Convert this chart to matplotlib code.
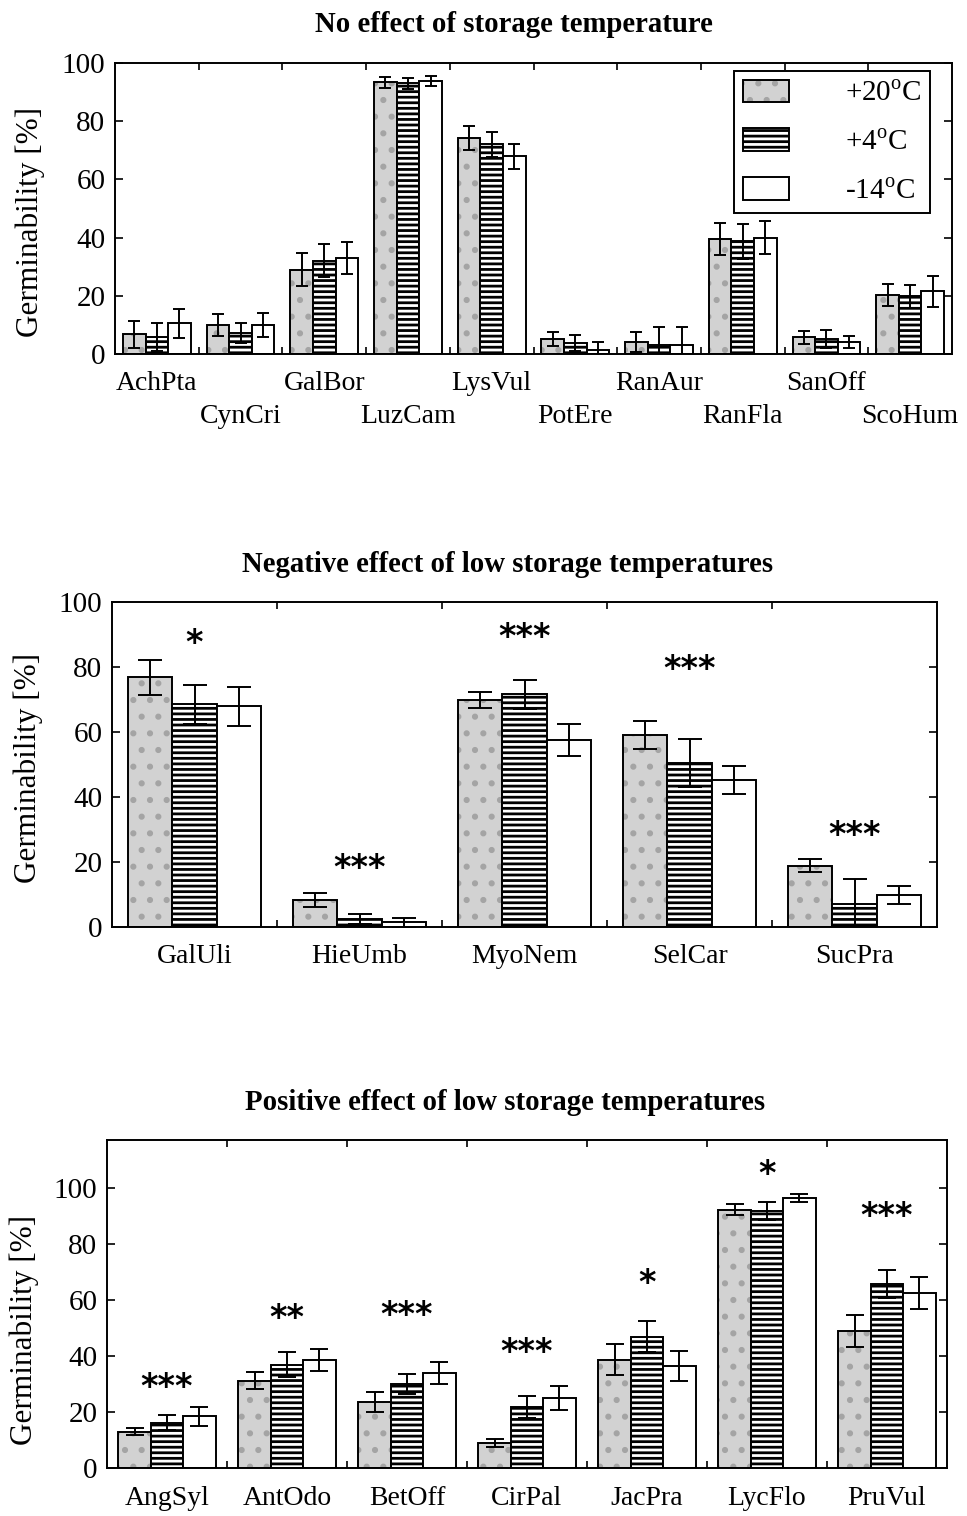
#!/usr/bin/env python3
"""Germinability of seeds after storage at three temperatures (three panels)."""
from __future__ import annotations

import matplotlib
matplotlib.use("Agg")
import matplotlib.pyplot as plt
import matplotlib.transforms as mtransforms
import numpy as np
from matplotlib.patches import Patch

# ---- data -----------------------------------------------------------------
TOP_SPECIES = ["AchPta", "CynCri", "GalBor", "LuzCam", "LysVul",
               "PotEre", "RanAur", "RanFla", "SanOff", "ScoHum"]
TOP_P20 = [6.8, 10.0, 28.9, 93.3, 74.2, 5.2, 4.2, 39.5, 5.7, 20.3]
TOP_P4 = [5.8, 7.3, 32.0, 93.0, 72.0, 3.8, 3.2, 38.7, 5.2, 19.8]
TOP_M14 = [10.5, 10.0, 32.9, 93.8, 67.9, 1.5, 3.2, 39.9, 4.2, 21.5]
TOP_E20 = [4.6, 3.7, 5.7, 1.8, 4.0, 2.5, 3.5, 5.5, 2.3, 3.8]
TOP_E4 = [4.8, 3.5, 5.7, 1.8, 4.3, 2.8, 6.2, 6.0, 3.0, 3.9]
TOP_E14 = [5.0, 4.0, 5.5, 1.8, 4.4, 2.5, 6.2, 5.7, 2.0, 5.4]

MID_SPECIES = ["GalUli", "HieUmb", "MyoNem", "SelCar", "SucPra"]
MID_P20 = [76.8, 8.3, 69.8, 59.0, 18.8]
MID_P4 = [68.5, 2.4, 71.6, 50.4, 7.1]
MID_M14 = [68.0, 1.5, 57.5, 45.2, 9.8]
MID_E20 = [5.5, 2.2, 2.5, 4.3, 2.0]
MID_E4 = [6.0, 1.6, 4.4, 7.4, 7.7]
MID_E14 = [6.0, 1.4, 5.0, 4.4, 2.8]
MID_STARS = ["*", "***", "***", "***", "***"]
MID_STAR_Y = [89, 19.7, 91, 81, 30]

BOT_SPECIES = ["AngSyl", "AntOdo", "BetOff", "CirPal", "JacPra", "LycFlo", "PruVul"]
BOT_P20 = [13.0, 31.2, 23.4, 9.0, 38.7, 92.1, 48.9]
BOT_P4 = [16.2, 36.9, 30.0, 21.8, 46.8, 91.6, 65.6]
BOT_M14 = [18.4, 38.4, 33.9, 25.0, 36.3, 96.4, 62.4]
BOT_E20 = [1.3, 3.0, 3.6, 1.4, 5.4, 2.0, 5.7]
BOT_E4 = [2.8, 4.4, 3.7, 4.0, 5.6, 3.3, 5.1]
BOT_E14 = [3.4, 3.9, 4.0, 4.4, 5.4, 1.5, 5.8]
BOT_STARS = ["***", "**", "***", "***", "*", "*", "***"]
BOT_STAR_Y = [30.8, 55.6, 56.6, 43.4, 68, 107, 92]

LEGEND_LABELS = ["+20$^\\mathrm{o}$C", "+4$^\\mathrm{o}$C", "-14$^\\mathrm{o}$C"]

W, H = 967, 1516
BAR_W = 0.27
GREY = "#d2d2d2"
DOTS = "#a4a4a4"

plt.rcParams["font.family"] = ["Liberation Serif", "DejaVu Serif"]
plt.rcParams["mathtext.fontset"] = "custom"
plt.rcParams["mathtext.rm"] = "Liberation Serif"
plt.rcParams["font.size"] = 20
plt.rcParams["hatch.linewidth"] = 2.0


def px_axes(fig, left, right, top, bottom):
    return fig.add_axes([left / W, 1 - bottom / H, (right - left) / W, (bottom - top) / H])


def draw_bars(ax, means, errs, capsize):
    x = np.arange(len(means[0]))
    for i, (m, e) in enumerate(zip(means, errs)):
        pos = x + (i - 1) * BAR_W
        if i == 0:
            # grey stipple: fill + grey dots, then black outline
            ax.bar(pos, m, BAR_W, color=GREY, edgecolor=DOTS, hatch=".", linewidth=0)
            ax.bar(pos, m, BAR_W, facecolor="none", edgecolor="black", linewidth=1.4)
        elif i == 1:
            ax.bar(pos, m, BAR_W, facecolor="white", edgecolor="black",
                   hatch="---", linewidth=1.4)
        else:
            ax.bar(pos, m, BAR_W, facecolor="white", edgecolor="black", linewidth=1.4)
        ax.errorbar(pos, m, yerr=e, fmt="none", ecolor="black", elinewidth=1.4,
                    capsize=capsize, capthick=1.4)


def style_axes(ax, labels, ymax, pad, alternate=False):
    n = len(labels)
    ax.set_xlim(-0.5, n - 0.5)
    ax.set_ylim(0, ymax)
    ax.set_yticks([0, 20, 40, 60, 80, 100])
    if alternate:
        labels = [lab if k % 2 == 0 else "\n" + lab for k, lab in enumerate(labels)]
    ax.set_xticks(np.arange(n), labels)
    ax.set_xticks(np.arange(n - 1) + 0.5, minor=True)
    ax.tick_params(axis="x", which="major", length=0, pad=pad, labelsize=20)
    ax.tick_params(axis="x", which="minor", direction="in", length=5, width=1.2,
                   top=True, bottom=True)
    ax.tick_params(axis="y", direction="in", length=6, width=1.2, right=True,
                   pad=7, labelsize=21)
    if alternate:
        for lab in ax.get_xticklabels():
            lab.set_linespacing(1.45)
    for sp in ax.spines.values():
        sp.set_linewidth(1.4)


def add_stars(ax, stars, ys):
    shifted = mtransforms.offset_copy(ax.transData, fig=ax.figure, x=0, y=-6,
                                      units="dots")
    for k, (s, y) in enumerate(zip(stars, ys)):
        ax.text(k, y, s, ha="center", va="center", fontsize=24,
                fontweight="bold", family="DejaVu Sans", transform=shifted)


def main() -> None:
    fig = plt.figure(figsize=(W / 100, H / 100), dpi=100)

    # top panel
    ax1 = px_axes(fig, 115, 952, 63, 354)
    draw_bars(ax1, [TOP_P20, TOP_P4, TOP_M14], [TOP_E20, TOP_E4, TOP_E14], 4.5)
    style_axes(ax1, TOP_SPECIES, 100, pad=12, alternate=True)
    handles = [(Patch(facecolor=GREY, edgecolor=DOTS, hatch=".", linewidth=0),
                Patch(facecolor="none", edgecolor="black", linewidth=1.4)),
               Patch(facecolor="white", edgecolor="black", hatch="---", linewidth=1.4),
               Patch(facecolor="white", edgecolor="black", linewidth=1.4)]
    leg = ax1.legend(handles, LEGEND_LABELS, loc="upper right",
                     bbox_to_anchor=(0.974, 0.973), borderaxespad=0, fancybox=False,
                     edgecolor="black", framealpha=1, fontsize=21, handlelength=1.6,
                     handleheight=0.8, handletextpad=1.9, labelspacing=0.74,
                     borderpad=0.3)
    leg.get_frame().set_linewidth(1.4)

    # middle panel
    ax2 = px_axes(fig, 112, 937, 602, 927)
    draw_bars(ax2, [MID_P20, MID_P4, MID_M14], [MID_E20, MID_E4, MID_E14], 8.5)
    style_axes(ax2, MID_SPECIES, 100, pad=12)
    add_stars(ax2, MID_STARS, MID_STAR_Y)

    # bottom panel
    ax3 = px_axes(fig, 107, 947, 1140, 1468)
    draw_bars(ax3, [BOT_P20, BOT_P4, BOT_M14], [BOT_E20, BOT_E4, BOT_E14], 6.5)
    style_axes(ax3, BOT_SPECIES, 117, pad=13)
    add_stars(ax3, BOT_STARS, BOT_STAR_Y)

    # titles and y labels
    fig.text(514 / W, 1 - 24 / H, "No effect of storage temperature",
             ha="center", va="center", fontsize=20.7, fontweight="bold")
    fig.text(508 / W, 1 - 564 / H, "Negative effect of low storage temperatures",
             ha="center", va="center", fontsize=20.7, fontweight="bold")
    fig.text(505 / W, 1 - 1102 / H, "Positive effect of low storage temperatures",
             ha="center", va="center", fontsize=20.7, fontweight="bold")
    for x, y in [(30, 222), (28, 768), (24, 1330)]:
        fig.text(x / W, 1 - y / H, "Germinability [%]", rotation=90,
                 ha="center", va="center", fontsize=22.5)

    fig.savefig("out.png", dpi=100)
    plt.close(fig)


if __name__ == "__main__":
    main()
